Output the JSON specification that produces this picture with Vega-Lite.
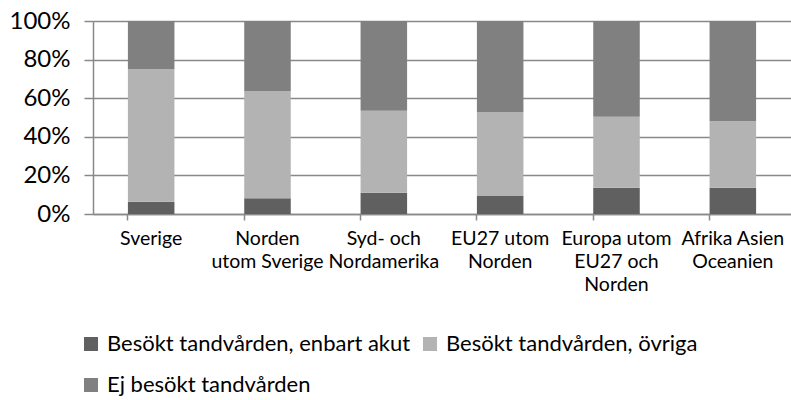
{
  "$schema": "https://vega.github.io/schema/vega-lite/v6.json",
  "autosize": {"type": "none"},
  "padding": {"left": 93, "top": 21, "right": 0, "bottom": 186},
  "width": 698,
  "height": 193,
  "background": "white",
  "config": {
    "font": "Lato",
    "view": {"stroke": null}
  },
  "data": {
    "values": [
      {"region": "Sverige", "kategori": "Besökt tandvården, enbart akut", "ord": 1, "andel": 0.064},
      {"region": "Sverige", "kategori": "Besökt tandvården, övriga", "ord": 2, "andel": 0.686},
      {"region": "Sverige", "kategori": "Ej besökt tandvården", "ord": 3, "andel": 0.25},
      {"region": "Norden|utom Sverige", "kategori": "Besökt tandvården, enbart akut", "ord": 1, "andel": 0.081},
      {"region": "Norden|utom Sverige", "kategori": "Besökt tandvården, övriga", "ord": 2, "andel": 0.556},
      {"region": "Norden|utom Sverige", "kategori": "Ej besökt tandvården", "ord": 3, "andel": 0.363},
      {"region": "Syd- och|Nordamerika", "kategori": "Besökt tandvården, enbart akut", "ord": 1, "andel": 0.11},
      {"region": "Syd- och|Nordamerika", "kategori": "Besökt tandvården, övriga", "ord": 2, "andel": 0.425},
      {"region": "Syd- och|Nordamerika", "kategori": "Ej besökt tandvården", "ord": 3, "andel": 0.465},
      {"region": "EU27 utom|Norden", "kategori": "Besökt tandvården, enbart akut", "ord": 1, "andel": 0.093},
      {"region": "EU27 utom|Norden", "kategori": "Besökt tandvården, övriga", "ord": 2, "andel": 0.435},
      {"region": "EU27 utom|Norden", "kategori": "Ej besökt tandvården", "ord": 3, "andel": 0.472},
      {"region": "Europa utom|EU27 och|Norden", "kategori": "Besökt tandvården, enbart akut", "ord": 1, "andel": 0.136},
      {"region": "Europa utom|EU27 och|Norden", "kategori": "Besökt tandvården, övriga", "ord": 2, "andel": 0.368},
      {"region": "Europa utom|EU27 och|Norden", "kategori": "Ej besökt tandvården", "ord": 3, "andel": 0.496},
      {"region": "Afrika Asien|Oceanien", "kategori": "Besökt tandvården, enbart akut", "ord": 1, "andel": 0.136},
      {"region": "Afrika Asien|Oceanien", "kategori": "Besökt tandvården, övriga", "ord": 2, "andel": 0.344},
      {"region": "Afrika Asien|Oceanien", "kategori": "Ej besökt tandvården", "ord": 3, "andel": 0.52}
    ]
  },
  "mark": {"type": "bar"},
  "encoding": {
    "x": {
      "field": "region",
      "type": "nominal",
      "sort": null,
      "scale": {"paddingInner": 0.6, "paddingOuter": 0.3},
      "axis": {
        "title": null,
        "labelAngle": 0,
        "labelExpr": "split(datum.label, '|')",
        "labelFontSize": 19.5,
        "labelColor": "#000000",
        "labelLineHeight": 23,
        "labelPadding": 9,
        "labelBaseline": "top",
        "bandPosition": 0,
        "ticks": true,
        "tickColor": "#898989",
        "tickSize": 6,
        "tickWidth": 1.5,
        "domainColor": "#898989",
        "domainWidth": 1.5,
        "grid": false
      }
    },
    "y": {
      "field": "andel",
      "type": "quantitative",
      "stack": "zero",
      "scale": {"domain": [0, 1]},
      "axis": {
        "title": null,
        "format": ".0%",
        "values": [0, 0.2, 0.4, 0.6, 0.8, 1],
        "labelFontSize": 24,
        "labelColor": "#000000",
        "labelPadding": 14,
        "tickColor": "#898989",
        "tickSize": 9,
        "tickWidth": 1.5,
        "domainColor": "#898989",
        "domainWidth": 1.5,
        "gridColor": "#898989",
        "gridWidth": 1.5
      }
    },
    "order": {"field": "ord", "type": "quantitative"},
    "color": {
      "field": "kategori",
      "type": "nominal",
      "scale": {
        "domain": ["Besökt tandvården, enbart akut", "Besökt tandvården, övriga", "Ej besökt tandvården"],
        "range": ["#606060", "#b3b3b3", "#808080"]
      },
      "legend": {
        "title": null,
        "orient": "none",
        "direction": "horizontal",
        "legendX": -13,
        "legendY": 312,
        "columns": 2,
        "symbolType": "square",
        "symbolSize": 196,
        "symbolStrokeWidth": 0,
        "symbolOpacity": 1,
        "labelFontSize": 22,
        "labelColor": "#000000",
        "labelOffset": 5,
        "rowPadding": 19,
        "columnPadding": 8,
        "labelLimit": 400
      }
    }
  }
}
